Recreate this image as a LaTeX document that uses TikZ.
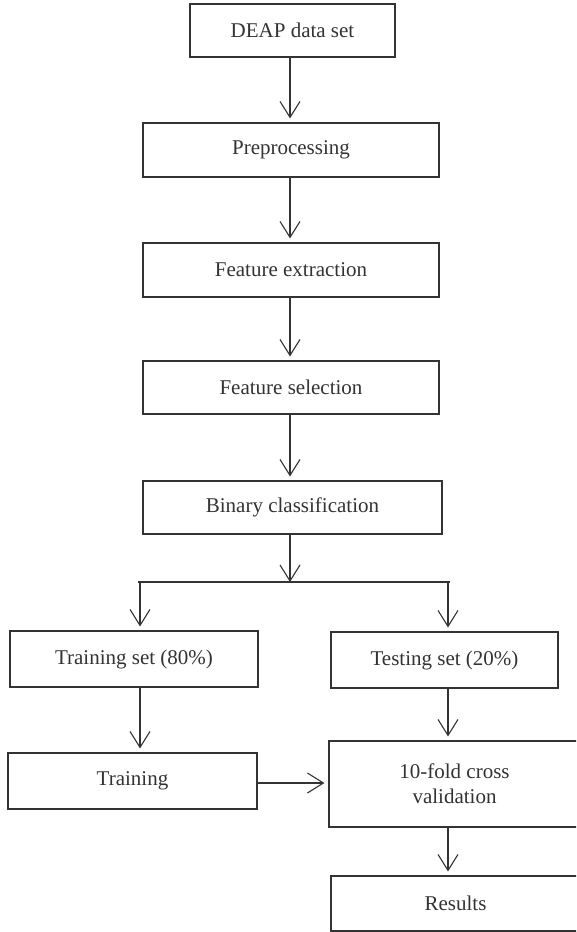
\documentclass[tikz,border=0pt]{standalone}
\usepackage{fontspec}
\setmainfont{Liberation Serif}
\usetikzlibrary{arrows.meta}
\definecolor{ink}{HTML}{333333}
\begin{document}
\begin{tikzpicture}[x=1pt,y=-1pt,
  box/.style={draw=ink, line width=1.1pt, text=ink, inner sep=0pt, align=center,
              font=\fontsize{21}{25}\selectfont},
  arr/.style={draw=ink, line width=1.1pt, -{Straight Barb[length=16pt,width=20pt,line width=1.1pt]}, shorten >=4pt},
  ln/.style={draw=ink, line width=1.1pt}]
\clip (0,0) rectangle (576,932);
\useasboundingbox (0,0) rectangle (576,932);
\fill[white] (0,0) rectangle (576,932);
\node[box, minimum width=205pt, minimum height=53pt] (deap) at (292.5,30.5) {DEAP data set};
\node[box, minimum width=296pt, minimum height=54pt] (prep) at (291,150) {Preprocessing};
\node[box, minimum width=296pt, minimum height=54pt] (fe) at (291,270) {Feature extraction};
\node[box, minimum width=296pt, minimum height=53pt] (fs) at (291,387.5) {Feature selection};
\node[box, minimum width=299pt, minimum height=53pt] (bc) at (292.5,507.5) {Binary classification};
\node[box, minimum width=248pt, minimum height=56pt] (trs) at (134,659) {Training set (80\%)};
\node[box, minimum width=227pt, minimum height=56pt] (tes) at (444.5,660) {Testing set (20\%)};
\node[box, minimum width=249pt, minimum height=56pt] (tr) at (132.5,781) {Training};
\node[box, minimum width=251pt, minimum height=86pt] (cv) at (454.5,784) {10-fold cross\\validation};
\node[box, minimum width=249pt, minimum height=55pt] (res) at (455.5,903.5) {Results};
\coordinate (jl) at (140,582);
\coordinate (jm) at (290,582);
\coordinate (jr) at (448,582);
\coordinate (cx) at (290,0);
\draw[arr] (deap.south -| cx) -- (prep.north -| cx);
\draw[arr] (prep.south -| cx) -- (fe.north -| cx);
\draw[arr] (fe.south -| cx) -- (fs.north -| cx);
\draw[arr] (fs.south -| cx) -- (bc.north -| cx);
\draw[arr, shorten >=0pt] (bc.south -| cx) -- (jm);
\draw[ln] (jl) -- (jr);
\draw[ln] (jl) -- ++(-2,0);
\draw[ln] (jr) -- ++(2,0);
\draw[arr] (jl) -- (jl |- trs.north);
\draw[arr] (jr) -- (jr |- tes.north);
\draw[arr] (jl |- trs.south) -- (jl |- tr.north);
\draw[arr] (jr |- tes.south) -- (jr |- cv.north);
\draw[arr] (jr |- cv.south) -- (jr |- res.north);
\draw[arr] (tr.east |- 0,783) -- (cv.west |- 0,783);
\end{tikzpicture}
\end{document}
